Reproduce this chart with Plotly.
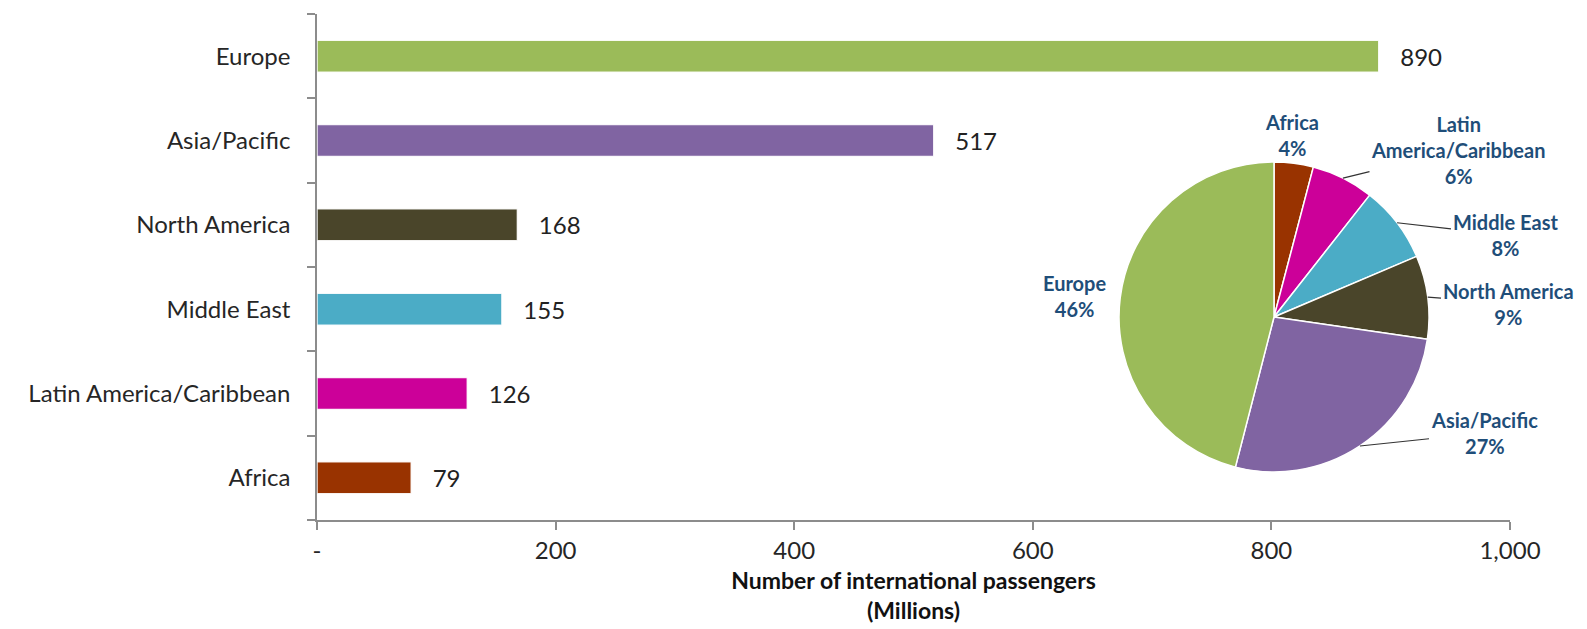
import math
import plotly.graph_objects as go

# ---- data ----
regions = ["Africa", "Latin America/Caribbean", "Middle East", "North America", "Asia/Pacific", "Europe"]
passengers = [79, 126, 155, 168, 517, 890]
colors = ["#993300", "#CC0099", "#4BACC6", "#4A452A", "#8064A2", "#9BBB59"]
pie_labels = ["Africa", "Latin<br>America/Caribbean", "Middle East", "North America", "Asia/Pacific", "Europe"]
pie_pct = ["4%", "6%", "8%", "9%", "27%", "46%"]
x_tickvals = [0, 200, 400, 600, 800, 1000]
x_ticktext = ["-", "200", "400", "600", "800", "1,000"]

# ---- layout geometry (pixels) ----
W, H = 1587, 629
L, R, T, B = 309, 85, 6, 117
PW, PH = W - L - R, H - T - B
FONT = "Lato"

fig = go.Figure()
fig.add_trace(go.Bar(
    y=regions, x=passengers, orientation="h",
    marker=dict(color=colors, line=dict(color="rgba(255,255,255,0.9)", width=1.5)),
    width=0.38,
    texttemplate="\u00a0\u00a0\u00a0%{x}", textposition="outside",
    textfont=dict(family=FONT, size=24, color="#222222"),
    cliponaxis=False, showlegend=False,
))

# pie geometry
cx, cy, r = 1266, 309, 155
fig.add_trace(go.Pie(
    labels=regions, values=passengers, sort=False, direction="clockwise", rotation=0,
    marker=dict(colors=colors, line=dict(color="white", width=1.5)),
    textinfo="none", hoverinfo="label+percent", showlegend=False,
    domain=dict(x=[(cx - r - L) / PW, (cx + r - L) / PW],
                y=[(H - B - (cy + r)) / PH, (H - B - (cy - r)) / PH]),
))

# pie labels (text centers in pixels) and leader lines computed from slice mid-angles
text_pos = [(1284, 127), (1450, 142), (1497, 227), (1500, 296), (1476, 425), (1066, 288)]
leader = [False, True, True, True, True, False]
total = sum(passengers)
cum = 0
for i, v in enumerate(passengers):
    mid = (cum + v / 2) / total * 2 * math.pi
    cum += v
    px = cx + r * math.sin(mid)
    py = cy - r * math.cos(mid)
    tx, ty = text_pos[i]
    txt = f"<b>{pie_labels[i]}<br>{pie_pct[i]}</b>"
    common = dict(xref="paper", yref="paper", xanchor="center", yanchor="middle",
                  font=dict(family=FONT, size=20, color="#1F4E79"), align="center")
    if leader[i]:
        fig.add_annotation(
            x=(px - L) / PW, y=(H - B - py) / PH,
            ax=tx - px, ay=ty - py, axref="pixel", ayref="pixel",
            text=txt, showarrow=True, arrowhead=0, arrowwidth=1.2, arrowcolor="#333333",
            standoff=0, startstandoff=0, **common,
        )
    else:
        fig.add_annotation(
            x=(tx - L) / PW, y=(H - B - ty) / PH,
            text=txt, showarrow=False, **common,
        )

fig.update_layout(
    width=W, height=H,
    margin=dict(l=L, r=R, t=T, b=B, pad=0),
    paper_bgcolor="white", plot_bgcolor="white",
    font=dict(family=FONT, size=24, color="#262626"),
    bargap=0.62,
    xaxis=dict(
        range=[0, 1000], tickvals=x_tickvals, ticktext=x_ticktext,
        showgrid=False, zeroline=False, showline=True, linecolor="#8C8C8C", linewidth=1.5,
        ticks="outside", ticklen=8, tickcolor="#8C8C8C", tickwidth=1.5,
        tickfont=dict(family=FONT, size=24, color="#262626"),
        automargin=False,
        title=dict(text="<b>Number of international passengers<br>(Millions)</b>",
                   font=dict(family=FONT, size=23, color="#111111"), standoff=10),
    ),
    yaxis=dict(
        type="category", range=[-0.5, 5.5], automargin=False,
        showgrid=False, zeroline=False, showline=True, linecolor="#8C8C8C", linewidth=1.5,
        ticks="outside", ticklen=8, tickcolor="#8C8C8C", tickwidth=1.5, tickson="boundaries",
        tickfont=dict(family=FONT, size=24, color="#262626"),
        ticklabelstandoff=20,
    ),
)

fig.write_html("out.html")
